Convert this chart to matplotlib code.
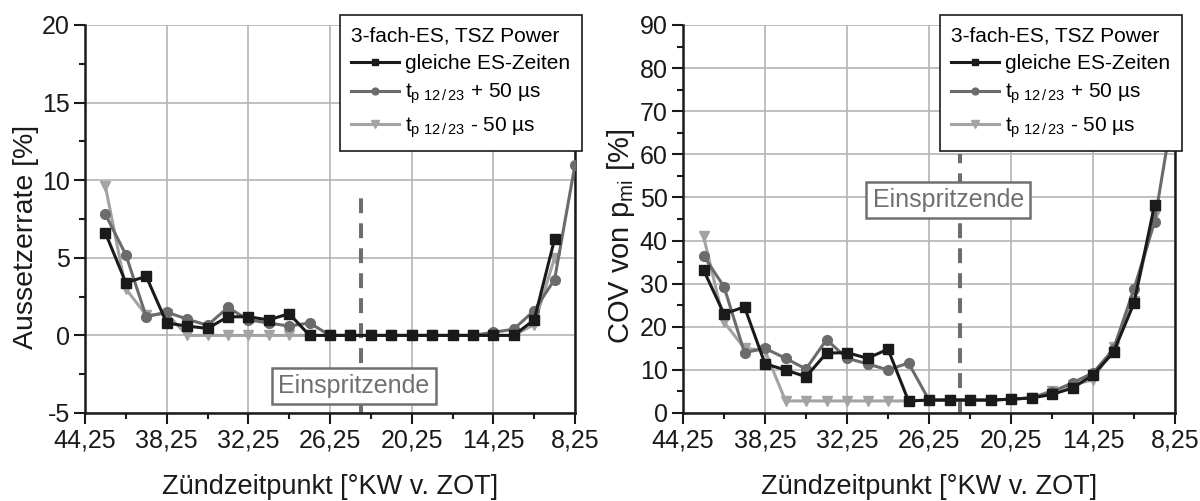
import numpy as np
import matplotlib
matplotlib.use('Agg')
import matplotlib.pyplot as plt
from matplotlib.ticker import MultipleLocator, FuncFormatter

plt.rcParams['font.family'] = ['Liberation Sans', 'DejaVu Sans']
plt.rcParams['mathtext.fontset'] = 'custom'
plt.rcParams['mathtext.rm'] = 'Liberation Sans'
plt.rcParams['mathtext.it'] = 'Liberation Sans'

nan = np.nan

# Zuendzeitpunkt [°KW v. ZOT]
zzp = [42.75, 41.25, 39.75, 38.25, 36.75, 35.25, 33.75, 32.25, 30.75, 29.25,
       27.75, 26.25, 24.75, 23.25, 21.75, 20.25, 18.75, 17.25, 15.75, 14.25,
       12.75, 11.25, 9.75, 8.25]

# Aussetzerrate [%]
aus_gleich = [6.6, 3.4, 3.8, 0.8, 0.6, 0.45, 1.2, 1.2, 1.0, 1.4,
              0, 0, 0, 0, 0, 0, 0, 0, 0, 0,
              0, 1.0, 6.2, nan]
aus_plus = [7.8, 5.2, 1.2, 1.5, 1.05, 0.65, 1.8, 1.0, 0.8, 0.6,
            0.8, 0, 0, 0, 0, 0, 0, 0, 0, 0.2,
            0.4, 1.6, 3.6, 11.0]
aus_minus = [9.6, 3.0, 1.3, 1.4, 0, 0, 0, 0, 0, 0,
             0, 0, 0, 0, 0, 0, 0, 0, 0, 0,
             0, 0.7, 5.0, nan]

# COV von p_mi [%]
cov_gleich = [33.2, 23.0, 24.6, 11.4, 10.0, 8.4, 13.9, 14.0, 12.7, 14.8,
              2.8, 3.0, 3.0, 3.0, 3.0, 3.2, 3.5, 4.3, 5.8, 8.8,
              14.1, 25.5, 48.2, nan]
cov_plus = [36.5, 29.3, 14.0, 15.0, 12.7, 10.2, 17.0, 12.7, 11.4, 10.0,
            11.6, 3.0, 3.0, 3.0, 3.0, 3.2, 3.5, 4.9, 7.0, 9.3,
            14.8, 28.8, 44.3, 73.0]
cov_minus = [41.0, 21.1, 15.0, 14.5, 2.8, 2.8, 2.8, 2.8, 2.8, 2.8,
             2.8, 3.0, 3.0, 3.0, 3.0, 3.2, 3.5, 5.2, 6.5, 7.7,
             15.3, 26.0, 46.0, nan]

einspritzende = 24.0
legend_title = '3-fach-ES, TSZ Power'
labels = ['gleiche ES-Zeiten',
          r't$_{\mathrm{p\ 12\,/\,23}}$ + 50 µs',
          r't$_{\mathrm{p\ 12\,/\,23}}$ - 50 µs']

c_black = '#1a1a1a'
c_grey = '#6b6b6b'
c_light = '#a3a3a3'
c_dash = '#6e6e6e'

fig = plt.figure(figsize=(12, 5.01), dpi=100)
ax1 = fig.add_axes([85/1200, 88/501, 490/1200, 388/501])
ax2 = fig.add_axes([683/1200, 88/501, 492/1200, 388/501])


def style_axes(ax, ylim, ymajor, yminor, ylabel, ysize):
    ax.set_xlim(44.25, 8.25)
    ax.set_ylim(*ylim)
    ax.xaxis.set_major_locator(MultipleLocator(6, offset=2.25))
    ax.xaxis.set_minor_locator(MultipleLocator(3, offset=2.25))
    ax.yaxis.set_major_locator(MultipleLocator(ymajor))
    ax.yaxis.set_minor_locator(MultipleLocator(yminor))
    ax.xaxis.set_major_formatter(FuncFormatter(lambda v, p: f'{v:.2f}'.replace('.', ',')))
    ax.yaxis.set_major_formatter(FuncFormatter(lambda v, p: f'{v:g}'))
    ax.grid(True, which='major', color='#b4b4b4', lw=1.2, zorder=0)
    ax.set_axisbelow(True)
    ax.spines['top'].set_visible(False)
    for s in ['left', 'bottom', 'right']:
        ax.spines[s].set_linewidth(1.8)
        ax.spines[s].set_color('#1a1a1a')
    ax.tick_params(which='major', direction='out', length=8, width=1.5,
                   labelsize=18, pad=3, colors='#1a1a1a')
    ax.tick_params(which='minor', direction='out', length=4, width=1.5,
                   colors='#1a1a1a')
    ax.tick_params(top=False, right=False, which='both')
    ax.set_xlabel('Zündzeitpunkt [°KW v. ZOT]', fontsize=19.5, labelpad=16,
                  color='#1a1a1a')
    ax.set_ylabel(ylabel, fontsize=ysize, labelpad=2, color='#1a1a1a')
    ax.yaxis.label.set_y(0.455)


def draw_series(ax, ys):
    g, p, m = ys
    ax.plot(zzp, m, color=c_light, lw=2.2, marker='v', ms=7.5, zorder=3,
            label=labels[2])
    ax.plot(zzp, p, color=c_grey, lw=2.2, marker='o', ms=7, zorder=4,
            label=labels[1])
    ax.plot(zzp, g, color=c_black, lw=2.2, marker='s', ms=6.5, zorder=5,
            label=labels[0])


def add_legend(ax):
    h, l = ax.get_legend_handles_labels()
    leg = ax.legend(h[::-1], l[::-1], title=legend_title, loc='upper right',
                    bbox_to_anchor=(1.014, 1.026), borderaxespad=0,
                    fontsize=15, title_fontsize=15, alignment='left',
                    frameon=True, fancybox=False, framealpha=1,
                    edgecolor='#1a1a1a', handlelength=2.3, handletextpad=0.3,
                    markerscale=0.7, labelspacing=0.42, borderpad=0.55)
    leg.get_frame().set_linewidth(1.2)
    leg.set_zorder(10)
    return leg


def add_einspritz(ax, y0, y1, tx, ty):
    ax.plot([einspritzende, einspritzende], [y0, y1], color=c_dash, lw=2.9,
            ls=(0, (3.7, 2.5)), zorder=2)
    ax.text(tx, ty, 'Einspritzende', transform=ax.transAxes, ha='center',
            va='center', fontsize=18, color='#707070', zorder=6,
            bbox=dict(boxstyle='square,pad=0.25', fc='white', ec='#707070',
                      lw=1.8))


style_axes(ax1, (-5, 20), 5, 2.5, 'Aussetzerrate [%]', 20.5)
draw_series(ax1, (aus_gleich, aus_plus, aus_minus))
add_einspritz(ax1, -5, 9.3, 0.549, 0.07)
add_legend(ax1)

style_axes(ax2, (0, 90), 10, 5, r'COV von p$_{\mathrm{mi}}$ [%]', 21)
draw_series(ax2, (cov_gleich, cov_plus, cov_minus))
add_einspritz(ax2, 0, 60, 0.539, 0.549)
add_legend(ax2)

fig.savefig('out.png', dpi=100)
